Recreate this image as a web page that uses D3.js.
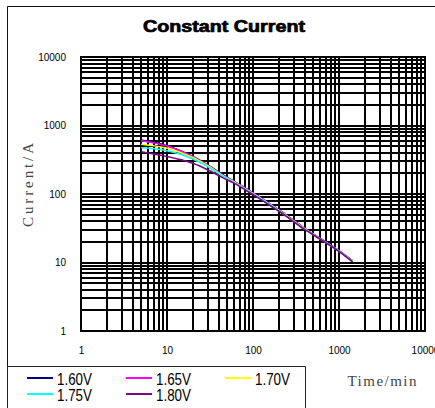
<!DOCTYPE html>
<html lang="en">
<head>
<meta charset="utf-8">
<title>Constant Current</title>
<script src="https://d3js.org/d3.v7.min.js"></script>
<style>
  body { margin: 0; background: #fff; }
  svg { display: block; }
</style>
</head>
<body>
<script>
// discharge time, minutes
var times = [5, 10, 15, 20, 30, 45, 60, 90, 120, 180, 240, 300, 360, 480, 600, 720, 900, 1200, 1440];

// current (A) per end voltage
var v160 = [612, 508, 418, 352, 264, 190, 153, 113, 90, 64, 50, 41, 34.5, 27, 22.6, 19.6, 16.3, 12.6, 10.6];
var v165 = [600, 502, 414, 350, 261, 187, 152, 112, 89, 63.8, 49.5, 40.5, 34.2, 26.9, 22.5, 19.5, 16.2, 12.5, 10.5];
var v170 = [532, 465, 395, 340, 256, 184, 150, 110, 88, 63, 49, 40, 33.8, 26.7, 22.3, 19.3, 16.1, 12.4, 10.4];
var v175 = [474, 429, 375, 325, 249, 180, 148, 109, 87, 62.5, 48.5, 39.6, 33.4, 26.5, 22.2, 19.2, 16, 12.3, 10.3];
var v180 = [414, 352, 313, 280, 224, 172, 144, 106, 85, 61, 48, 39, 33, 26.3, 22, 19, 15.9, 12.2, 10.2];

var seriesNames = ["1.60V", "1.65V", "1.70V", "1.75V", "1.80V"];
var seriesColors = ["#000080", "#ff00ff", "#ffff00", "#00ffff", "#800080"];
var seriesValues = [v160, v165, v170, v175, v180];

var tickLabels = [1, 10, 100, 1000, 10000];

var width = 435, height = 408;

var svg = d3.select("body").append("svg")
    .attr("width", width)
    .attr("height", height);

var x = d3.scaleLog().domain([1, 10000]).range([81, 425]);
var y = d3.scaleLog().domain([1, 10000]).range([331, 57]);

// outer frame
svg.append("path")
    .attr("d", "M7.5," + height + "V6.5H" + width)
    .attr("fill", "none")
    .attr("stroke", "#111")
    .attr("stroke-width", 1);

// title
svg.append("text")
    .attr("x", 224)
    .attr("y", 32)
    .attr("text-anchor", "middle")
    .attr("font-family", "Liberation Sans, Arial, sans-serif")
    .attr("font-weight", 900)
    .attr("font-size", 16)
    .attr("textLength", 162)
    .attr("lengthAdjust", "spacingAndGlyphs")
    .style("stroke", "#000")
    .style("stroke-width", 0.7)
    .text("Constant Current");

// grid: every 1..9 x decade
var gridVals = [];
for (var k = 0; k < 4; k++) {
  for (var m = 1; m < 10; m++) gridVals.push(m * Math.pow(10, k));
}
gridVals.push(10000);

var grid = svg.append("g")
    .attr("stroke", "#000")
    .attr("stroke-width", 2)
    .attr("shape-rendering", "crispEdges");

grid.selectAll("line.v")
    .data(gridVals)
    .enter().append("line")
    .attr("class", "v")
    .attr("x1", function(d) { return x(d); })
    .attr("x2", function(d) { return x(d); })
    .attr("y1", y(10000) - 1)
    .attr("y2", y(1) + 1);

grid.selectAll("line.h")
    .data(gridVals)
    .enter().append("line")
    .attr("class", "h")
    .attr("y1", function(d) { return y(d); })
    .attr("y2", function(d) { return y(d); })
    .attr("x1", x(1) - 1)
    .attr("x2", x(10000) + 1);

// tick labels
var yAxis = d3.axisLeft(y)
    .tickValues(tickLabels)
    .tickFormat(d3.format("d"))
    .tickSize(0)
    .tickPadding(15);

svg.append("g")
    .attr("transform", "translate(" + x(1) + ",0)")
    .call(yAxis)
    .call(function(g) { g.select(".domain").remove(); })
    .selectAll("text")
    .attr("font-family", "Liberation Sans, Arial, sans-serif")
    .attr("font-size", 10)
    .attr("fill", "#000");

var xAxis = d3.axisBottom(x)
    .tickValues(tickLabels)
    .tickFormat(d3.format("d"))
    .tickSize(0)
    .tickPadding(16);

svg.append("g")
    .attr("transform", "translate(0," + y(1) + ")")
    .call(xAxis)
    .call(function(g) { g.select(".domain").remove(); })
    .selectAll("text")
    .attr("font-family", "Liberation Sans, Arial, sans-serif")
    .attr("font-size", 10)
    .attr("fill", "#000");

// axis titles
svg.append("text")
    .attr("transform", "translate(33,185) rotate(-90)")
    .attr("text-anchor", "middle")
    .attr("font-family", "Liberation Serif, Times New Roman, serif")
    .attr("font-size", 15)
    .attr("textLength", 84)
    .attr("lengthAdjust", "spacing")
    .attr("fill", "#444")
    .text("Current/A");

svg.append("text")
    .attr("x", 382)
    .attr("y", 386)
    .attr("text-anchor", "middle")
    .attr("font-family", "Liberation Serif, Times New Roman, serif")
    .attr("font-size", 15)
    .attr("textLength", 69)
    .attr("lengthAdjust", "spacing")
    .attr("fill", "#444")
    .text("Time/min");

// curves
var line = d3.line()
    .x(function(d) { return x(d[0]); })
    .y(function(d) { return y(d[1]); })
    .curve(d3.curveMonotoneX);

svg.append("g").selectAll("path")
    .data(seriesValues)
    .enter().append("path")
    .attr("d", function(vals) { return line(times.map(function(t, i) { return [t, vals[i]]; })); })
    .attr("fill", "none")
    .attr("stroke", function(d, i) { return seriesColors[i]; })
    .attr("stroke-width", 1.6);

// legend
svg.append("path")
    .attr("d", "M7.5," + height + "V366.5H305.5V" + height)
    .attr("fill", "#fff")
    .attr("stroke", "#222")
    .attr("stroke-width", 1);

var legend = svg.append("g").selectAll("g")
    .data(seriesNames)
    .enter().append("g")
    .attr("transform", function(d, i) {
      return "translate(" + (27 + (i % 3) * 99) + "," + (378 + Math.floor(i / 3) * 16) + ")";
    });

legend.append("line")
    .attr("x1", 0).attr("x2", 26)
    .attr("stroke", function(d, i) { return seriesColors[i]; })
    .attr("stroke-width", 2);

legend.append("text")
    .attr("x", 30)
    .attr("y", 7)
    .attr("font-family", "Liberation Sans, Arial, sans-serif")
    .attr("font-size", 16)
    .attr("textLength", 35)
    .attr("lengthAdjust", "spacingAndGlyphs")
    .attr("fill", "#000")
    .text(function(d) { return d; });
</script>
</body>
</html>
